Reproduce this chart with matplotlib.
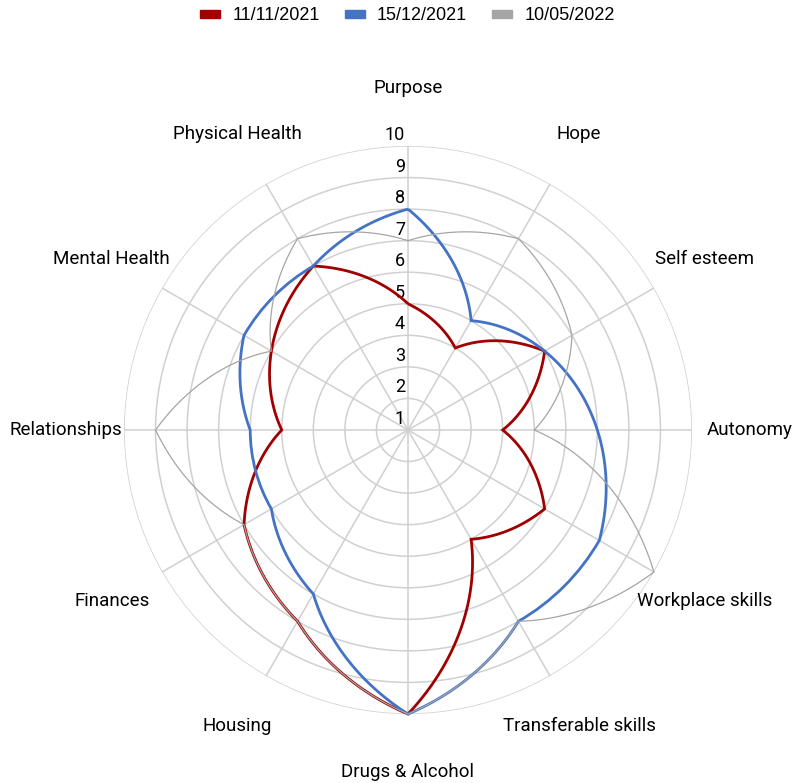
import numpy as np
import matplotlib.pyplot as plt
from matplotlib.patches import Patch, PathPatch
from matplotlib.path import Path
from matplotlib.transforms import offset_copy

# categories clockwise from the top
categories = ["Purpose", "Hope", "Self esteem", "Autonomy", "Workplace skills",
              "Transferable skills", "Drugs & Alcohol", "Housing", "Finances",
              "Relationships", "Mental Health", "Physical Health"]

# scores per date
series_names = ["11/11/2021", "15/12/2021", "10/05/2022"]
scores_nov21 = [5, 4, 6, 4, 6, 5, 10, 8, 7, 5, 6, 7]
scores_dec21 = [8, 5, 6, 7, 8, 8, 10, 7, 6, 6, 7, 7]
scores_may22 = [7, 8, 7, 5, 10, 8, 10, 8, 7, 9, 6, 8]
scale_ticks = [1, 2, 3, 4, 5, 6, 7, 8, 9, 10]

colors = ["#A00000", "#4472C4", "#A5A5A5"]
widths = [2.0, 2.0, 0.9]

plt.rcParams['font.family'] = ['Roboto', 'DejaVu Sans']

fig = plt.figure(figsize=(7.95, 7.83), dpi=100)
ax = fig.add_axes([124 / 795, 69 / 783, 568 / 795, 568 / 783], projection='polar')
ax.set_theta_zero_location('N')
ax.set_theta_direction(-1)
ax.set_ylim(scale_ticks[0], scale_ticks[-1])

n = len(categories)
angles = np.linspace(0, 2 * np.pi, n, endpoint=False)

# grid
ax.set_xticks(angles)
ax.set_xticklabels([])
ax.set_yticks(scale_ticks)
ax.set_yticklabels([])
ax.grid(True, color='#D0D0D0', linewidth=1.1)
ax.spines['polar'].set_visible(False)

# data lines, drawn as paths so the polar transform bends them (gray on top)
all_scores = [scores_nov21, scores_dec21, scores_may22]
for i, vals in enumerate(all_scores):
    t = np.append(angles, 2 * np.pi)
    r = np.append(vals, vals[0])
    path = Path(np.column_stack([t, r]), _interpolation_steps=60)
    ax.add_patch(PathPatch(path, fill=False, edgecolor=colors[i], linewidth=widths[i],
                           joinstyle='miter', zorder=3 + i, clip_on=False))

# scale labels along the top spoke
tick_tr = offset_copy(ax.transData, fig=fig, x=-3, y=2, units='dots')
for v in scale_ticks:
    ax.text(0, v, str(v), transform=tick_tr, ha='right', va='bottom',
            fontsize=13, color='#000000', zorder=2)

# category labels
for a, name in zip(angles, categories):
    ax.text(a, 11.84, name, ha='center', va='center', fontsize=13.5,
            color='#000000', clip_on=False)

# legend
handles = [Patch(facecolor=c, edgecolor=c) for c in colors]
fig.legend(handles, series_names, loc='center', bbox_to_anchor=(0.5 + 10 / 795, 1 - 16 / 783),
           ncol=3, frameon=False, handlelength=1.1, handleheight=0.33,
           handletextpad=0.67, columnspacing=1.4,
           prop={'family': ['Liberation Sans', 'DejaVu Sans'], 'size': 13})

fig.savefig('out.png', dpi=100)
